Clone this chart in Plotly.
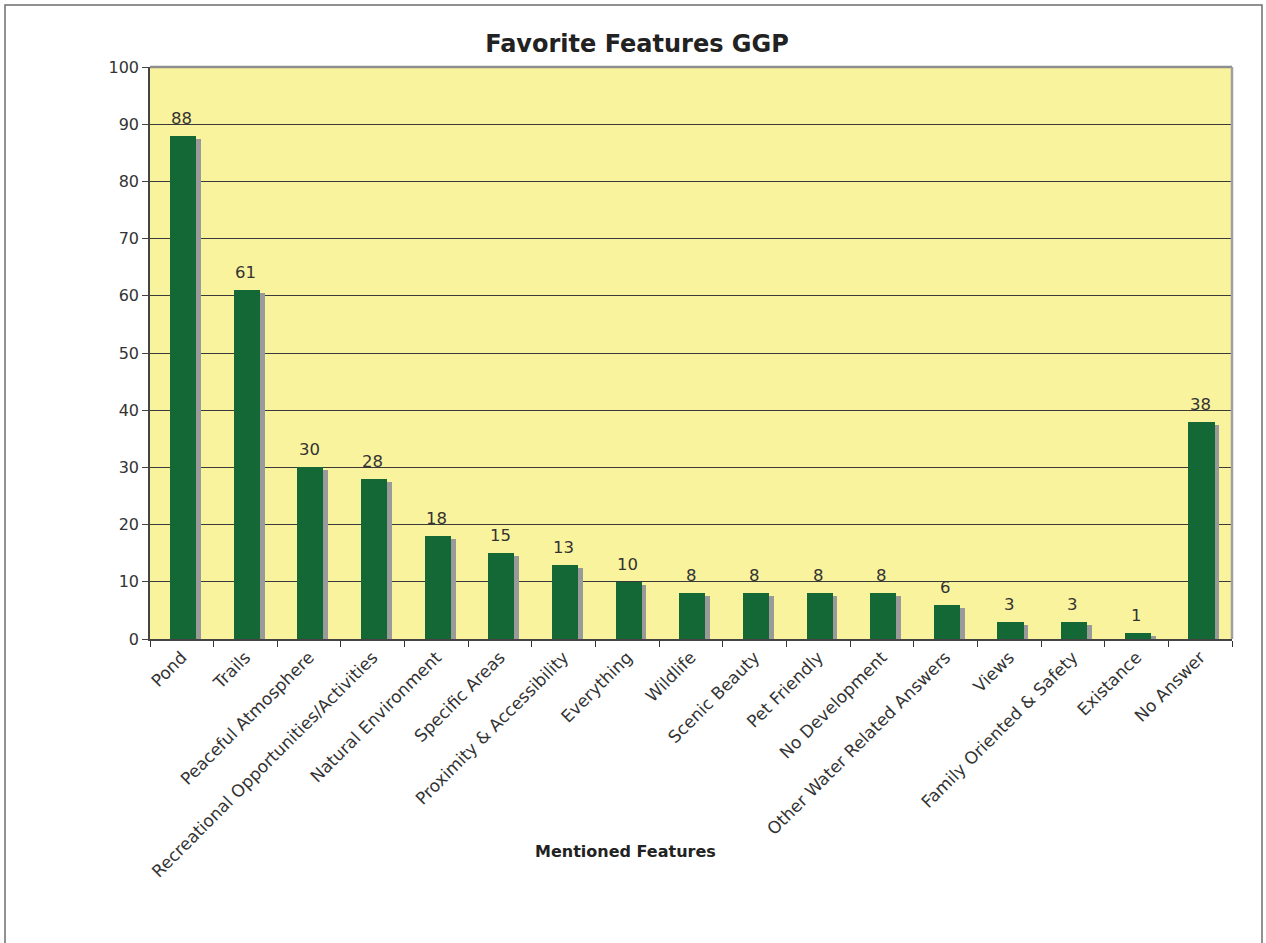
import plotly.graph_objects as go

# Survey responses: favourite features of the park
features = [
    "Pond", "Trails", "Peaceful Atmosphere", "Recreational Opportunities/Activities",
    "Natural Environment", "Specific Areas", "Proximity & Accessibility", "Everything",
    "Wildlife", "Scenic Beauty", "Pet Friendly", "No Development",
    "Other Water Related Answers", "Views", "Family Oriented & Safety", "Existance",
    "No Answer",
]
mentions = [88, 61, 30, 28, 18, 15, 13, 10, 8, 8, 8, 8, 6, 3, 3, 1, 38]
y_ticks = list(range(0, 101, 10))

FONT = "DejaVu Sans, Verdana, sans-serif"
GREEN = "#136835"
SHADOW = "#9A9A9A"
PLOT_BG = "#FAF39E"
TEXT = "#333333"

# plot area in pixels
L, R, T, B = 150, 1232, 67, 639
W, H = 1266, 943

def px_x(p):
    return (p - L) / (R - L)

def px_y(p):
    return (B - p) / (B - T)

fig = go.Figure()

# drop shadow behind each bar
fig.add_trace(go.Bar(
    x=features, y=mentions, base=-0.5,
    offset=-0.10, width=0.40,
    marker=dict(color=SHADOW, line=dict(width=0)),
    hoverinfo="skip", showlegend=False,
))
# main bars
fig.add_trace(go.Bar(
    x=features, y=mentions,
    offset=-0.185, width=0.41,
    marker=dict(color=GREEN, line=dict(width=0)),
    showlegend=False,
))

# value labels above bars
for f, v in zip(features, mentions):
    fig.add_annotation(
        x=f, y=v, text=str(v), showarrow=False,
        yanchor="bottom", yshift=6,
        font=dict(family=FONT, size=16.5, color=TEXT),
    )

# axis title below the rotated category labels
fig.add_annotation(
    xref="paper", yref="paper", x=px_x(625), y=px_y(851),
    text="<b>Mentioned Features</b>", showarrow=False,
    xanchor="center", yanchor="middle",
    font=dict(family=FONT, size=16, color="#222222"),
)

shapes = [
    # top and right borders of the plot area
    dict(type="line", xref="paper", yref="paper", x0=0, x1=1, y0=1, y1=1,
         line=dict(color="#8E8E8E", width=2.5), layer="above"),
    dict(type="line", xref="paper", yref="paper", x0=1, x1=1, y0=0, y1=1,
         line=dict(color="#A0A0A0", width=2.5), layer="above"),
    # outer frame around the whole chart
    dict(type="rect", xref="paper", yref="paper",
         x0=px_x(5), x1=px_x(1262), y0=px_y(960), y1=px_y(5),
         line=dict(color="#6E6E6E", width=1.5), layer="below"),
]

fig.update_layout(
    width=W, height=H,
    margin=dict(l=L, r=W - R, t=T, b=H - B, pad=0),
    paper_bgcolor="white", plot_bgcolor=PLOT_BG,
    barmode="overlay", bargap=0,
    font=dict(family=FONT, color=TEXT),
    shapes=shapes,
    title=dict(
        text="<b>Favorite Features GGP</b>",
        x=637 / W, xanchor="center", y=1 - 44 / H, yanchor="middle",
        font=dict(family=FONT, size=24, color="#222222"),
    ),
    xaxis=dict(
        type="category", tickangle=-45, tickson="boundaries",
        ticks="outside", ticklen=6, tickcolor="#333333", tickwidth=1,
        showline=True, linecolor="#444444", linewidth=1.5,
        showgrid=False, tickfont=dict(family=FONT, size=17, color=TEXT),
        range=[-0.5, len(features) - 0.5],
    ),
    yaxis=dict(
        range=[0, 100], tickvals=y_ticks,
        ticks="outside", ticklen=6, tickcolor="#444444", tickwidth=1,
        showline=True, linecolor="#444444", linewidth=1.5,
        showgrid=True, gridcolor="#3A3A3A", gridwidth=1,
        zeroline=False,
        tickfont=dict(family=FONT, size=16, color=TEXT),
    ),
)

fig.write_html("out.html")
